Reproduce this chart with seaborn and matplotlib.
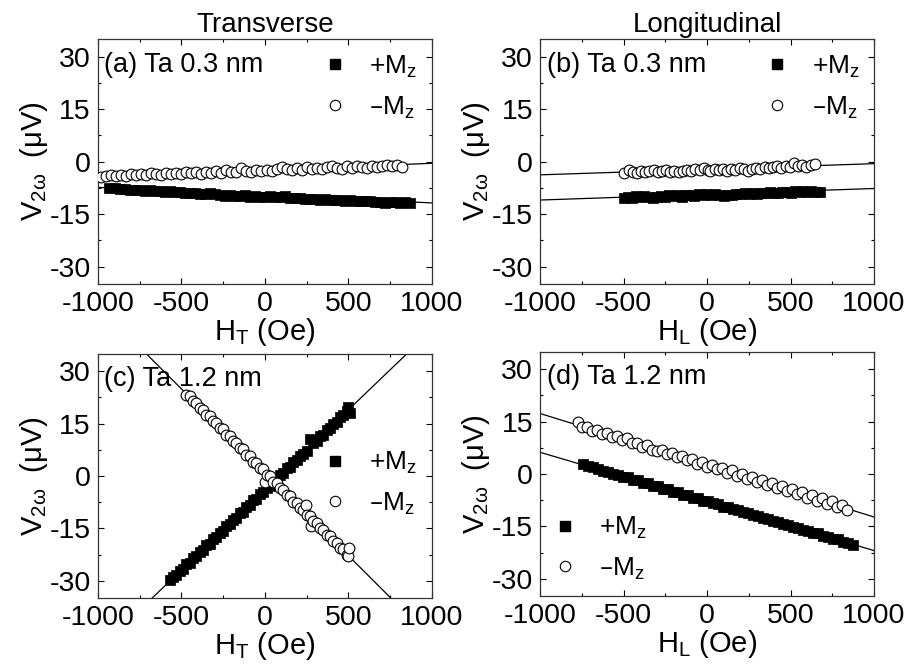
import numpy as np
import pandas as pd
import matplotlib
matplotlib.use("Agg")
import matplotlib.pyplot as plt
import seaborn as sns
from matplotlib.lines import Line2D
from matplotlib.ticker import MultipleLocator

# ---------------- data ----------------
# (a) Transverse, Ta 0.3 nm
a_plus_x = [-930,-900,-870,-840,-810,-780,-750,-720,-690,-660,-630,-600,-570,-540,-510,-480,-450,-420,-390,-360,
            -330,-300,-270,-240,-210,-180,-150,-120,-90,-60,-30,0,30,60,90,120,150,180,210,240,270,300,330,360,
            390,420,450,480,510,540,570,600,630,660,690,720,750,780,810,840,870]
a_plus_y = [-7.6,-7.5,-7.9,-7.8,-8.0,-8.1,-8.0,-8.3,-8.2,-8.5,-8.4,-8.6,-8.5,-8.8,-8.6,-8.9,-9.1,-9.0,-9.2,-9.3,
            -9.1,-9.4,-9.6,-9.8,-9.7,-9.9,-9.8,-9.7,-10.0,-9.9,-10.1,-10.0,-9.9,-10.0,-10.2,-9.8,-10.3,-10.4,-10.3,
            -10.6,-10.8,-10.7,-10.9,-10.8,-11.0,-10.9,-11.1,-11.2,-11.0,-11.3,-11.2,-11.4,-11.3,-11.6,-11.5,-11.8,
            -11.6,-11.7,-11.9,-11.7,-11.8]
a_minus_x = [-980,-950,-920,-890,-860,-830,-800,-770,-740,-710,-680,-650,-620,-590,-560,-530,-500,-470,-440,-410,
             -380,-350,-320,-290,-260,-230,-200,-170,-140,-110,-80,-50,-20,10,40,70,100,130,160,190,220,250,280,310,
             340,370,400,430,460,490,520,550,580,610,640,670,700,730,760,790,820]
a_minus_y = [-4.5,-4.0,-3.7,-4.1,-3.8,-4.0,-3.6,-3.9,-3.5,-3.8,-3.4,-3.6,-3.9,-3.3,-3.6,-3.2,-3.5,-3.0,-3.4,-3.1,
             -3.5,-2.9,-3.3,-2.8,-3.2,-2.5,-2.9,-3.0,-1.7,-2.6,-2.9,-2.4,-2.8,-2.3,-2.6,-2.0,-1.6,-2.2,-2.5,-1.9,
             -2.3,-1.5,-2.0,-1.7,-2.2,-1.6,-1.2,-1.9,-2.1,-1.4,-1.8,-1.3,-1.6,-1.9,-1.2,-1.6,-1.3,-1.0,-1.4,-0.9,-1.5]
a_fit_plus = [-0.00222, -9.6]    # slope, intercept
a_fit_minus = [0.0019, -2.4]

# (b) Longitudinal, Ta 0.3 nm
b_plus_x = [-500,-475,-450,-425,-400,-375,-350,-325,-300,-275,-250,-225,-200,-175,-150,-125,-100,-75,-50,-25,0,25,
            50,75,100,125,150,175,200,225,250,275,300,325,350,375,400,425,450,475,500,525,550,575,600,625,650,675]
b_plus_y = [-10.4,-10.1,-10.3,-9.9,-10.0,-9.8,-10.2,-10.5,-10.1,-9.9,-10.0,-9.7,-9.9,-9.6,-10.0,-9.7,-9.5,-9.8,-9.4,
            -9.6,-9.3,-9.5,-9.4,-9.6,-9.8,-9.5,-9.7,-9.3,-9.4,-9.1,-9.3,-9.0,-9.2,-8.9,-9.0,-8.7,-8.9,-9.0,-8.8,-8.6,
            -8.9,-8.5,-8.7,-8.4,-8.6,-8.5,-8.7,-8.6]
b_minus_x = [-495,-470,-445,-420,-395,-370,-345,-320,-295,-270,-245,-220,-195,-170,-145,-120,-95,-70,-45,-20,5,20,45,
             70,95,120,145,170,195,220,245,270,295,320,345,370,395,420,445,470,495,520,545,570,595,620,645]
b_minus_y = [-3.3,-2.5,-3.0,-3.2,-2.7,-3.1,-2.8,-2.5,-3.0,-2.7,-2.4,-2.9,-2.6,-3.0,-2.7,-2.5,-2.8,-2.2,-2.5,-1.8,
             -2.4,-2.7,-2.2,-2.5,-2.0,-2.6,-2.1,-2.4,-1.8,-2.2,-2.6,-2.1,-1.7,-2.0,-1.5,-1.9,-1.6,-1.3,-1.8,-1.2,
             -1.6,-0.3,-1.2,-0.9,-1.5,-1.0,-0.8]
b_fit_plus = [0.00165, -9.35]
b_fit_minus = [0.0016, -2.2]

# (c) Transverse, Ta 1.2 nm
c_plus_x = [-570,-550,-530,-510,-490,-470,-450,-430,-410,-390,-370,-350,-330,-310,-290,-270,-250,-230,-210,-190,
            -170,-150,-130,-110,-90,-70,-50,-30,-10,10,30,50,70,90,110,130,150,170,190,210,230,250,270,290,310,330,
            350,370,390,410,430,450,470,490,500,510]
c_plus_y = [-29.8,-29.0,-28.4,-27.2,-26.6,-25.3,-24.8,-23.5,-22.9,-21.7,-21.1,-19.8,-19.3,-18.0,-17.5,-16.2,-15.7,
            -14.3,-13.8,-12.5,-12.0,-10.7,-10.2,-8.8,-8.3,-7.0,-6.5,-5.2,-4.7,-3.3,-2.8,-1.5,-1.0,0.3,0.8,2.2,2.7,
            4.0,4.5,5.8,6.3,7.2,10.5,9.5,10.0,11.3,11.8,13.1,13.6,15.0,15.5,16.8,17.3,18.6,19.6,18.0]
c_minus_x = [-470,-450,-430,-410,-390,-370,-350,-330,-310,-290,-270,-250,-230,-210,-190,-170,-150,-130,-110,-90,
             -70,-50,-30,-10,0,10,30,50,70,90,110,130,150,170,190,210,230,245,250,270,275,290,310,330,350,370,390,
             410,430,450,470,490,500,505]
c_minus_y = [23.2,22.8,21.3,20.9,19.4,19.0,17.5,17.1,15.6,15.2,13.7,13.3,11.8,11.4,9.9,9.5,7.9,7.6,6.0,5.7,4.1,
             3.8,2.2,1.9,-1.8,0.3,-0.1,-1.6,-2.0,-3.5,-3.9,-5.4,-5.8,-7.3,-7.7,-9.2,-9.6,-8.3,-11.1,-11.5,-14.2,
             -13.0,-13.4,-14.9,-15.3,-16.8,-17.2,-18.7,-19.1,-20.6,-21.0,-22.5,-23.0,-20.6]
c_fit_plus = [0.0458, -4.0]
c_fit_minus = [-0.0477, 1.08]

# (d) Longitudinal, Ta 1.2 nm
d_plus_x = [-745,-715,-685,-655,-625,-595,-565,-535,-505,-475,-445,-415,-385,-355,-325,-295,-265,-235,-205,-175,
            -145,-115,-85,-55,-25,5,35,65,95,125,155,185,215,245,275,305,335,365,395,425,455,485,515,545,575,605,
            635,665,695,725,755,785,815,845,875]
d_plus_y = [2.9,2.3,2.0,1.3,0.8,0.7,0.0,-0.2,-0.9,-1.0,-1.7,-1.8,-2.5,-2.7,-3.4,-3.5,-4.2,-4.4,-5.1,-5.2,-5.9,
            -6.0,-6.8,-6.9,-7.6,-7.7,-8.4,-8.6,-9.3,-9.4,-10.1,-10.2,-11.0,-11.1,-11.8,-11.9,-12.7,-12.8,-13.5,-13.6,
            -14.3,-14.6,-15.2,-15.3,-16.0,-16.3,-16.9,-17.0,-17.7,-17.9,-18.6,-18.7,-19.4,-19.6,-20.2]
d_minus_x = [-770,-750,-720,-690,-660,-630,-600,-570,-540,-510,-480,-450,-420,-390,-360,-330,-300,-270,-240,-210,
             -180,-150,-120,-90,-60,-30,0,30,60,90,120,150,180,210,240,270,300,330,360,390,420,450,480,510,540,570,
             600,630,660,690,720,750,780,810,840]
d_minus_y = [14.9,13.3,13.5,12.3,12.6,11.5,11.8,10.5,10.8,9.6,10.2,9.0,8.9,7.6,8.2,7.0,6.6,6.8,5.7,5.9,4.8,5.0,
             3.9,4.2,2.9,3.4,2.1,2.7,1.3,1.8,0.4,1.0,-0.6,0.1,-1.5,-0.9,-2.4,-1.7,-3.2,-2.7,-4.1,-3.3,-4.9,-4.2,
             -5.8,-5.2,-6.8,-6.0,-7.6,-7.0,-8.5,-7.8,-9.3,-8.8,-10.3]
d_fit_plus = [-0.01405, -7.85]
d_fit_minus = [-0.0148, 2.5]

x_ticks = [-1000, -500, 0, 500, 1000]
y_ticks = [-30, -15, 0, 15, 30]
panel_labels = ["(a) Ta 0.3 nm", "(b) Ta 0.3 nm", "(c) Ta 1.2 nm", "(d) Ta 1.2 nm"]
col_titles = ["Transverse", "Longitudinal"]
x_labels = ["H$_T$ (Oe)", "H$_L$ (Oe)", "H$_T$ (Oe)", "H$_L$ (Oe)"]
y_label = "V$_{2ω}$  (μV)"
series_labels = ["+M$_z$", "–M$_z$"]

# ---------------- style ----------------
sns.set_style("ticks")
plt.rcParams["font.family"] = ["Liberation Sans", "DejaVu Sans"]
plt.rcParams["mathtext.default"] = "regular"
plt.rcParams["axes.unicode_minus"] = False
plt.rcParams["axes.linewidth"] = 0.9
for k in ["text.color", "axes.labelcolor", "xtick.color", "ytick.color"]:
    plt.rcParams[k] = "black"
plt.rcParams["axes.edgecolor"] = "#333333"

fig = plt.figure(figsize=(9.14, 6.69), dpi=100)
W, H = 0.3655, 0.366
pos = [(0.107, 0.5755), (0.5908, 0.5755), (0.107, 0.1055), (0.5908, 0.1085)]
axes = [fig.add_axes([p[0], p[1], W, H]) for p in pos]

panels = [
    (a_plus_x, a_plus_y, a_minus_x, a_minus_y, a_fit_plus, a_fit_minus),
    (b_plus_x, b_plus_y, b_minus_x, b_minus_y, b_fit_plus, b_fit_minus),
    (c_plus_x, c_plus_y, c_minus_x, c_minus_y, c_fit_plus, c_fit_minus),
    (d_plus_x, d_plus_y, d_minus_x, d_minus_y, d_fit_plus, d_fit_minus),
]
legend_locs = [("upper right", (1.0, 1.0)), ("upper right", (1.0, 1.0)),
               ("center right", (1.0, 0.47)), ("lower left", (0.0, 0.0))]

for i, (ax, (px, py, mx, my, fp, fm)) in enumerate(zip(axes, panels)):
    ax.set_xlim(-1000, 1000)
    ax.set_ylim(-35, 35)
    xl = np.array(ax.get_xlim())
    for fit in (fp, fm):
        ax.plot(xl, fit[0] * xl + fit[1], color="black", lw=0.9, zorder=1)
    dfp = pd.DataFrame({"x": px, "y": py})
    dfm = pd.DataFrame({"x": mx, "y": my})
    sns.scatterplot(data=dfm, x="x", y="y", ax=ax, marker="o", s=60, facecolor="white",
                    edgecolor="black", linewidth=0.8, zorder=3)
    sns.scatterplot(data=dfp, x="x", y="y", ax=ax, marker="s", s=60, color="black",
                    edgecolor="black", linewidth=0.5, zorder=2)
    ax.set_xticks(x_ticks)
    ax.set_yticks(y_ticks)
    ax.xaxis.set_minor_locator(MultipleLocator(250))
    ax.yaxis.set_minor_locator(MultipleLocator(7.5))
    ax.tick_params(which="both", direction="in", top=True, right=True, labelsize=20.5, pad=5)
    ax.tick_params(which="major", length=4, width=0.8)
    ax.tick_params(which="minor", length=2.5, width=0.8)
    ax.set_xlabel(x_labels[i], fontsize=21, labelpad=-1)
    ax.set_ylabel(y_label, fontsize=21, labelpad=0)
    ax.text(0.02, 0.895, panel_labels[i], transform=ax.transAxes, fontsize=19.5, va="center", ha="left")
    if i < 2:
        ax.set_title(col_titles[i], fontsize=20, pad=5)
    handles = [Line2D([], [], marker="s", ls="none", color="black", markersize=7),
               Line2D([], [], marker="o", ls="none", markerfacecolor="white",
                      markeredgecolor="black", markersize=7.5, markeredgewidth=0.8)]
    loc, anchor = legend_locs[i]
    ax.legend(handles, series_labels, loc=loc, bbox_to_anchor=anchor, frameon=False,
              fontsize=19, handletextpad=0.9, labelspacing=0.55, borderaxespad=0.15,
              handlelength=0.8)

fig.savefig("out.png", dpi=100)
